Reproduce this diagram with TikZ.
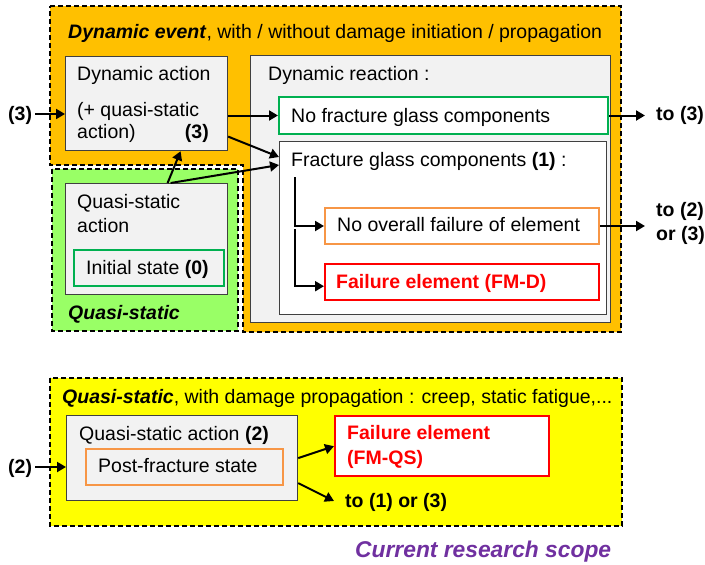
\documentclass[tikz,border=0pt]{standalone}
\usepackage{fontspec}
\setmainfont{Liberation Sans}
\usetikzlibrary{arrows.meta,calc}
\definecolor{boxgray}{HTML}{F2F2F2}
\definecolor{boxedge}{HTML}{404040}
\definecolor{eventorange}{HTML}{FFC000}
\definecolor{staticgreen}{HTML}{99FF66}
\definecolor{staticyellow}{HTML}{FFFF00}
\definecolor{edgegreen}{HTML}{00B050}
\definecolor{edgeorange}{HTML}{F79646}
\definecolor{scopepurple}{HTML}{7030A0}
\tikzset{
  region/.style={draw=black, line width=2pt, dash pattern=on 5pt off 3pt},
  panel/.style={anchor=north west, inner sep=0pt, draw=boxedge, line width=1.2pt, fill=boxgray},
  whitepanel/.style={panel, fill=white},
  greenpanel/.style={draw=edgegreen, line width=2pt},
  orangepanel/.style={draw=edgeorange, line width=2pt},
  redpanel/.style={draw=red, line width=2.4pt},
  txt/.style={anchor=base west, inner sep=0pt},
  txtr/.style={anchor=base east, inner sep=0pt},
  boldtxt/.style={txt, font=\fontsize{19.5}{23}\selectfont\bfseries},
  conn/.style={line width=2pt, -{Triangle[length=9pt,width=10pt]}},
}
\begin{document}
\begin{tikzpicture}[x=1pt, y=-1pt, font=\fontsize{19.5}{23}\selectfont]
\useasboundingbox (0,0) rectangle (705,565);

% --- dynamic event region (L-shaped) and quasi-static region ---
\draw[region, fill=eventorange] (50,6) -- (621,6) -- (621,332) -- (243,332)
  -- (243,165) -- (50,165) -- cycle;
\draw[region, fill=staticgreen] (52,169) rectangle (238,331);

\node[txt] (evtitle) at (68,38) {\textbf{\textit{Dynamic event}}, with / without damage initiation / propagation};
\node[txt] (qslabel) at (68,319) {\textbf{\textit{Quasi-static}}};

% --- dynamic action ---
\node[panel, minimum width=162pt, minimum height=94pt] (dynact) at (65,56) {};
\node[txt] (dynactA) at (77,80) {Dynamic action};
\node[txt] (dynactB) at (77,116) {(+ quasi-static};
\node[txt] (dynactC) at (77,138) {action)};
\node[txtr] (dynactD) at (209,138) {\textbf{(3)}};

% --- quasi-static action with initial state ---
\node[panel, minimum width=162pt, minimum height=111pt] (qsact) at (65,183) {};
\node[txt] (qsactA) at (77,208) {Quasi-static};
\node[txt] (qsactB) at (77,232) {action};
\node[panel, greenpanel, minimum width=150pt, minimum height=36pt] (init) at (73,249) {};
\node[txt] (initT) at (86,274) {Initial state \textbf{(0)}};

% --- dynamic reaction ---
\node[panel, minimum width=360pt, minimum height=267pt] (dynreact) at (250,55) {};
\node[txt] (dynreactT) at (268,80) {Dynamic reaction :};
\node[whitepanel, greenpanel, minimum width=329pt, minimum height=37pt] (nofrac) at (278,96) {};
\node[txt] (nofracT) at (291,122) {No fracture glass components};
\node[whitepanel, minimum width=327pt, minimum height=173pt] (frac) at (279,141) {};
\node[txt] (fracT) at (291,166) {Fracture glass components \textbf{(1)} :};
\node[whitepanel, orangepanel, minimum width=274pt, minimum height=36pt] (noover) at (324,207) {};
\node[txt] (nooverT) at (337,231) {No overall failure of element};
\node[whitepanel, redpanel, minimum width=274pt, minimum height=36pt] (faild) at (324,263) {};
\node[boldtxt, text=red] (faildT) at (336,288) {Failure element (FM-D)};

% --- entry and exits of the dynamic event ---
\node[boldtxt] (in3) at (8,120) {(3)};
\node[boldtxt] (out3) at (656,120) {to (3)};
\node[boldtxt] (out2a) at (656,216) {to (2)};
\node[boldtxt] (out2b) at (656,240) {or (3)};

% --- connectors of the dynamic event ---
\coordinate (in3tail) at ([xshift=3pt,yshift=6pt]in3.base east);
\draw[conn] (in3tail) -- (in3tail -| dynact.west);
\draw[conn] (dynact.east |- nofrac.west) -- (nofrac.west);
\draw[conn] ([yshift=-33pt]dynact.east) -- ([yshift=-16pt]frac.north west);
\draw[conn] ([xshift=21pt]qsact.north) -- ([xshift=34pt]dynact.south);
\draw[conn] ([xshift=24pt]qsact.north) -- ([yshift=-24pt]frac.north west);
\coordinate (branchA) at (295,177);
\coordinate (branchB) at (295,229);
\draw[conn] (branchA) |- (noover.west);
\draw[conn] (branchB) |- ([yshift=-4pt]faild.west);
\draw[conn] (nofrac.east) -- ($(nofrac.east -| out3.west)+(-11,0)$);
\draw[conn] (noover.east) -- ($(noover.east -| out2a.west)+(-11,0)$);

% --- quasi-static region with damage propagation ---
\draw[region, fill=staticyellow] (50,378) rectangle (622,526);
\node[txt] (qstitle) at (62,403) {\textbf{\textit{Quasi-static}}, with damage propagation : creep, static fatigue,...};
\node[panel, minimum width=231pt, minimum height=85pt] (qsact2) at (66,415) {};
\node[txt] (qsact2T) at (79,440) {Quasi-static action \textbf{(2)}};
\node[panel, orangepanel, minimum width=197pt, minimum height=36pt] (post) at (85,448) {};
\node[txt] (postT) at (98,472) {Post-fracture state};
\node[whitepanel, redpanel, minimum width=214pt, minimum height=60pt] (fmqs) at (334,415) {};
\node[boldtxt, text=red] (fmqsA) at (347,439) {Failure element};
\node[boldtxt, text=red] (fmqsB) at (347,464) {(FM-QS)};
\node[boldtxt] (in2) at (8,473) {(2)};
\node[boldtxt] (out13) at (345,507) {to (1) or (3)};

\coordinate (in2tail) at ([xshift=3pt,yshift=6pt]in2.base east);
\draw[conn] (in2tail) -- (in2tail -| qsact2.west);
\draw[conn] (qsact2.east) -- (fmqs.west);
\draw[conn] ([yshift=-25pt]qsact2.east) -- ([xshift=-11pt,yshift=6pt]out13.base west);

\node[txt, text=scopepurple, font=\fontsize{22.8}{26}\selectfont\bfseries\itshape] (scope) at (355,557) {Current research scope};
\end{tikzpicture}
\end{document}
